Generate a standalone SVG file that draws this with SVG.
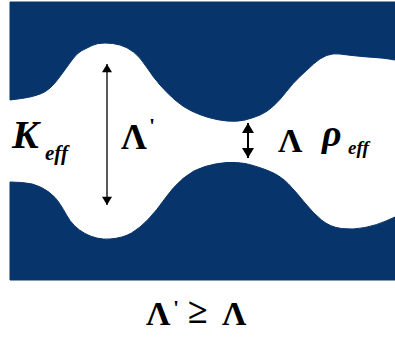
<svg xmlns="http://www.w3.org/2000/svg" width="395" height="338" viewBox="0 0 395 338">
<style>
.solid{fill:#07346a;stroke:#07346a;stroke-width:1;stroke-linejoin:round}
text{font-family:"Liberation Serif","DejaVu Serif",serif;font-weight:bold;fill:#000}
.it{font-style:italic}
.ln{stroke:#000;fill:none}
</style>
<defs>
<marker id="ahBig" viewBox="0 0 10 12" refX="10" refY="6" markerWidth="12" markerHeight="10" markerUnits="userSpaceOnUse" orient="auto-start-reverse">
<path d="M0,0 L10,6 L0,12 Z" fill="#000"/>
</marker>
<marker id="ahSmall" viewBox="0 0 10 12" refX="10" refY="6" markerWidth="10" markerHeight="12" markerUnits="userSpaceOnUse" orient="auto-start-reverse">
<path d="M0,0 L10,6 L0,12 Z" fill="#000"/>
</marker>
</defs>
<rect width="395" height="338" fill="#fff"/>
<g id="pore">
<path class="solid" d="M10,2 H395 V60 L389,59 Q383,58 375,57.5 Q367,57 357,56 Q347,55 340,54 Q333,53 326.5,55.5 Q320,58 313.5,64 Q307,70 300,76.5 Q293,83 286.5,91.5 Q280,100 273.5,106 Q267,112 260,115 Q253,118 245,120 Q237,122 227,121 Q217,120 208.5,117.5 Q200,115 191.5,111 Q183,107 175,100 Q167,93 160,85 Q153,77 146.5,67 Q140,57 133.5,52 Q127,47 120,45 Q113,43 105,43 Q97,43 92,45.5 Q87,48 82,50.5 Q77,53 72,60 Q67,67 58.5,78.5 Q50,90 41.5,93.5 Q33,97 21.5,98.5 L10,100 Z"/>
<path class="solid" d="M10,182 L21.5,182.5 Q33,183 41.5,187.5 Q50,192 55,197.5 Q60,203 66.5,215 Q73,227 85,233.5 Q97,240 110,239 Q123,238 131.5,233 Q140,228 148.5,219 Q157,210 165,198.5 Q173,187 183,178.5 Q193,170 205,166.5 Q217,163 227,162.5 Q237,162 245,163.5 Q253,165 266.5,170 Q280,175 288.5,184 Q297,193 305,203 Q313,213 321.5,220 Q330,227 341.5,228.5 Q353,230 365,227.5 Q377,225 386,221 L395,217 V280 H10 Z"/>
</g>
<g id="connectors">
<line class="ln" x1="107" y1="64" x2="107" y2="205" stroke-width="1.3" marker-start="url(#ahBig)" marker-end="url(#ahBig)"/>
<line class="ln" x1="248" y1="123" x2="248" y2="158" stroke-width="2" marker-start="url(#ahSmall)" marker-end="url(#ahSmall)"/>
</g>
<g id="label-keff">
<text class="it" x="12" y="148" font-size="40">K</text>
<text class="it" x="45" y="160" font-size="21">eff</text>
</g>
<g id="label-lambda-prime">
<text x="121" y="149" font-size="36">Λ</text>
<text x="149" y="133" font-size="22">'</text>
</g>
<g id="label-lambda">
<text x="278" y="152" font-size="34">Λ</text>
</g>
<g id="label-rho">
<text class="it" x="322" y="146" font-size="38">ρ</text>
<text class="it" x="348" y="154" font-size="19">eff</text>
</g>
<g id="relation">
<text x="146" y="325" font-size="34">Λ</text>
<text x="173" y="315" font-size="22">'</text>
<text x="188" y="323" font-size="36">≥</text>
<text x="222" y="325" font-size="34">Λ</text>
</g>
</svg>
